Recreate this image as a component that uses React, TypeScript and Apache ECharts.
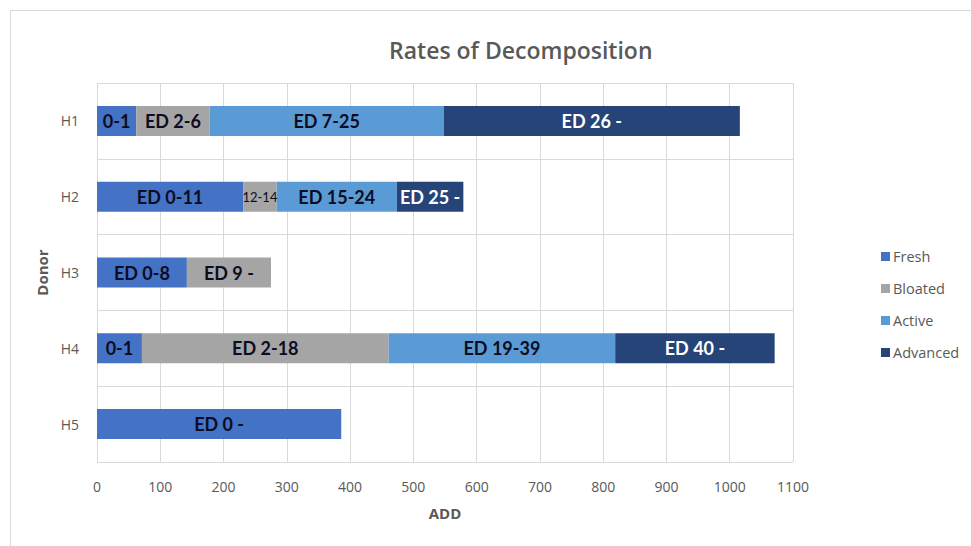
import React, { useEffect, useRef } from "react";
import * as echarts from "echarts";

const donors = ["H1", "H2", "H3", "H4", "H5"];
const xTicks = [0, 100, 200, 300, 400, 500, 600, 700, 800, 900, 1000, 1100];

const freshValues = [62, 231, 142, 71, 386];
const bloatedValues = [116, 53, 133, 390, null];
const activeValues = [370, 190, null, 358, null];
const advancedValues = [468, 105, null, 252, null];

const freshLabels = ["0-1", "ED 0-11", "ED 0-8", "0-1", "ED 0 -"];
const bloatedLabels = ["ED 2-6", "12-14", "ED 9 -", "ED 2-18", ""];
const activeLabels = ["ED 7-25", "ED 15-24", "", "ED 19-39", ""];
const advancedLabels = ["ED 26 -", "ED 25 -", "", "ED 40 -", ""];

const FONT = "'Open Sans', Lato, sans-serif";
const LABEL_FONT = "Lato, 'Open Sans', sans-serif";
const DARK = "#0c0c22";

function buildData(values: (number | null)[], labels: string[], color: string, small: string[] = []) {
  return values.map((v, i) => ({
    value: v,
    label: {
      show: v != null,
      formatter: labels[i],
      color,
      fontFamily: LABEL_FONT,
      fontWeight: small.includes(labels[i]) ? "normal" : "bold",
      fontSize: small.includes(labels[i]) ? 13 : 18,
    },
  }));
}

export default function App() {
  const ref = useRef<HTMLDivElement>(null);
  useEffect(() => {
    if (!ref.current) return;
    const chart = echarts.init(ref.current, undefined, { renderer: "svg" });
    const seriesBase = {
      type: "bar" as const,
      stack: "total",
      barWidth: 30,
      label: { show: true, position: "inside" as const },
    };
    chart.setOption({
      animation: false,
      backgroundColor: "#ffffff",
      textStyle: { fontFamily: FONT },
      title: {
        text: "Rates of Decomposition",
        left: 384,
        top: 33,
        textStyle: { fontFamily: FONT, fontSize: 23, fontWeight: 600, color: "#595959" },
      },
      graphic: [
        {
          type: "rect",
          shape: { x: 10.5, y: 10.5, width: 990, height: 580 },
          style: { fill: "none", stroke: "#d9d9d9", lineWidth: 1 },
          silent: true,
        },
      ],
      legend: {
        orient: "vertical",
        left: 876,
        top: 244,
        itemWidth: 9,
        itemHeight: 9,
        itemGap: 17,
        icon: "rect",
        textStyle: { fontFamily: FONT, fontSize: 14.5, color: "#595959", padding: [0, 0, 0, -2] },
        data: ["Fresh", "Bloated", "Active", "Advanced"],
      },
      grid: { left: 97, right: 178, top: 83, bottom: 84, containLabel: false },
      xAxis: {
        type: "value",
        min: xTicks[0],
        max: xTicks[xTicks.length - 1],
        interval: 100,
        name: "ADD",
        nameLocation: "middle",
        nameGap: 43,
        nameTextStyle: { fontFamily: FONT, fontSize: 15, fontWeight: "bold", color: "#595959" },
        axisLine: { show: false },
        axisTick: { show: false },
        axisLabel: {
          color: "#595959",
          fontSize: 14,
          margin: 17,
          fontFamily: FONT,
          formatter: (v: number) => String(v),
        },
        splitLine: { show: true, lineStyle: { color: "#d9d9d9", width: 1 } },
      },
      yAxis: {
        type: "category",
        data: donors,
        inverse: true,
        name: "Donor",
        nameLocation: "middle",
        nameGap: 48,
        nameRotate: 90,
        nameTextStyle: { fontFamily: FONT, fontSize: 15, fontWeight: "bold", color: "#595959" },
        axisLine: { show: true, lineStyle: { color: "#d9d9d9" } },
        axisTick: { show: false },
        axisLabel: { color: "#595959", fontSize: 14, margin: 18, fontFamily: FONT },
        splitLine: { show: true, lineStyle: { color: "#d9d9d9", width: 1 } },
      },
      series: [
        { ...seriesBase, name: "Fresh", itemStyle: { color: "#4472C4" }, data: buildData(freshValues, freshLabels, DARK) },
        { ...seriesBase, name: "Bloated", itemStyle: { color: "#A5A5A5" }, data: buildData(bloatedValues, bloatedLabels, DARK, ["12-14"]) },
        { ...seriesBase, name: "Active", itemStyle: { color: "#5B9BD5" }, data: buildData(activeValues, activeLabels, DARK) },
        { ...seriesBase, name: "Advanced", itemStyle: { color: "#264478" }, data: buildData(advancedValues, advancedLabels, "#ffffff") },
      ],
    });
    return () => chart.dispose();
  }, []);
  return <div ref={ref} style={{ position: "fixed", left: 0, top: 0, width: 971, height: 546 }} />;
}
